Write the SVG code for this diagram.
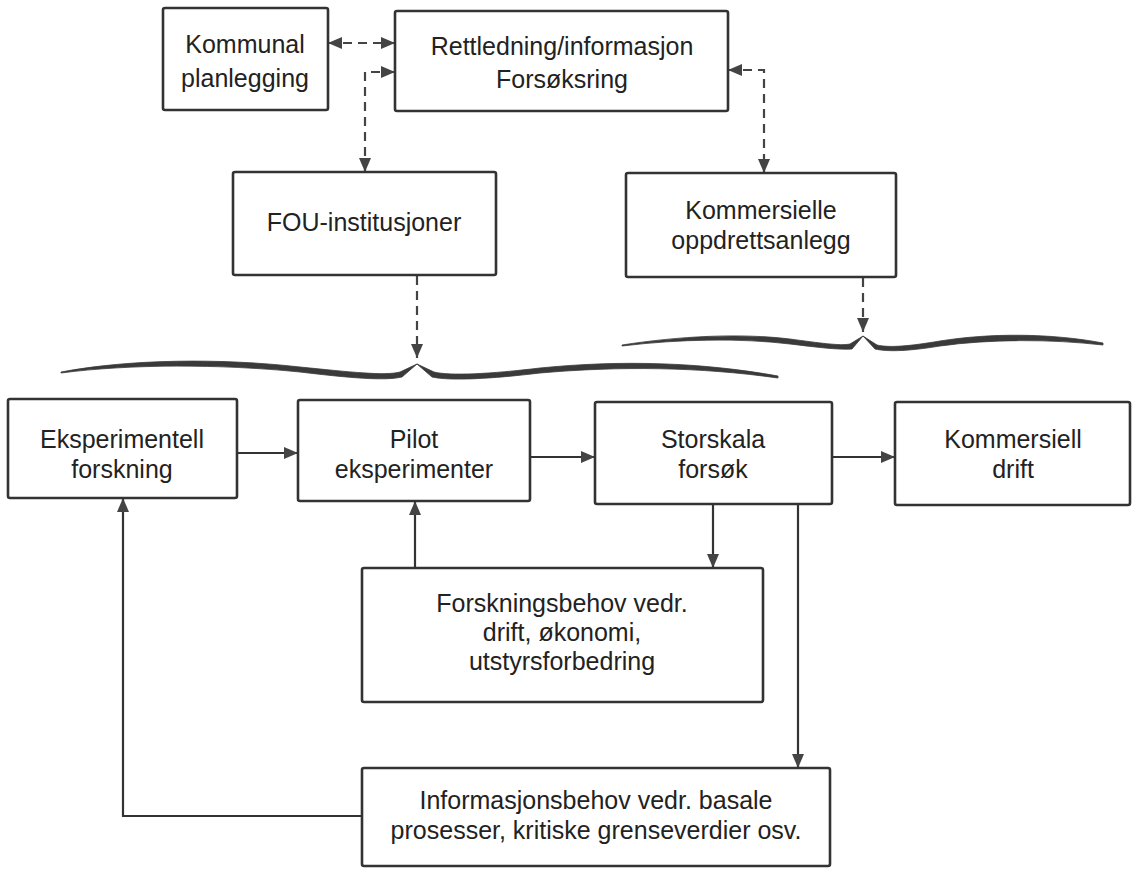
<svg xmlns="http://www.w3.org/2000/svg" width="1133" height="869" viewBox="0 0 1133 869">
<style>
.box{fill:#fff;stroke:#333;stroke-width:2.6}
.t{font-family:"Liberation Sans",Arial,Helvetica,sans-serif;font-size:25px;fill:#222;text-anchor:middle}
.c{fill:none;stroke:#333;stroke-width:2.2}
.d{fill:none;stroke:#444;stroke-width:2.2;stroke-dasharray:9 6}
.brace{fill:#3a3a3a;stroke:#3a3a3a;stroke-width:0.8}
</style>
<defs>
<marker id="a" viewBox="0 0 14 12" refX="14" refY="6" markerWidth="14" markerHeight="12" markerUnits="userSpaceOnUse" orient="auto-start-reverse">
<path d="M0,0 L14,6 L0,12 z" fill="#444"/>
</marker>
</defs>
<rect width="1133" height="869" fill="#fff"/>
<g id="connectors">
<path class="d" d="M328,43 H395" marker-start="url(#a)" marker-end="url(#a)"/>
<path class="d" d="M395,72 H365 V172" marker-start="url(#a)" marker-end="url(#a)"/>
<path class="d" d="M728,70 H764 V173" marker-start="url(#a)" marker-end="url(#a)"/>
<path class="d" d="M417,276 V358" marker-end="url(#a)"/>
<path class="d" d="M863,278 V332" marker-end="url(#a)"/>
<path class="c" d="M237,453 H298" marker-end="url(#a)"/>
<path class="c" d="M530,457 H595" marker-end="url(#a)"/>
<path class="c" d="M832,457 H895" marker-end="url(#a)"/>
<path class="c" d="M713,504 V568" marker-end="url(#a)"/>
<path class="c" d="M798,504 V768" marker-end="url(#a)"/>
<path class="c" d="M415,568 V501" marker-end="url(#a)"/>
<path class="c" d="M362,816 H123 V498" marker-end="url(#a)"/>
</g>
<g id="brace-left">
<path class="brace" d="M61,372 C130,359 220,358 300,367 C350,372 385,376 400,372 L417,364 L402,377 C385,381 350,378 300,372 C220,364 130,364 61,373 Z"/>
<path class="brace" d="M417,364 L434,372 C450,376 490,374 540,368 C620,360 700,362 778,376 L778,378 C700,367 620,366 540,373 C490,379 450,381 432,377 Z"/>
</g>
<g id="brace-right">
<path class="brace" d="M622,345 C680,336 740,333 790,339 C820,343 840,346 850,344 L863,336 L852,349 C838,350 815,347 790,344 C740,338 680,339 622,346 Z"/>
<path class="brace" d="M863,336 L877,345 C890,348 910,346 940,341 C990,333 1050,333 1103,343 L1103,345 C1050,339 990,339 940,346 C910,351 888,352 875,349 Z"/>
</g>
<g id="kommunal">
<rect class="box" x="163" y="8" width="165" height="102" rx="2"/>
<text class="t" x="245" y="53">Kommunal</text>
<text class="t" x="245" y="87">planlegging</text>
</g>
<g id="rettledning">
<rect class="box" x="395" y="11" width="333" height="100" rx="2"/>
<text class="t" x="562" y="55">Rettledning/informasjon</text>
<text class="t" x="562" y="88">Forsøksring</text>
</g>
<g id="fou">
<rect class="box" x="233" y="172" width="263" height="103" rx="2"/>
<text class="t" x="364" y="231">FOU-institusjoner</text>
</g>
<g id="kommersielle">
<rect class="box" x="626" y="173" width="270" height="104" rx="2"/>
<text class="t" x="761" y="219">Kommersielle</text>
<text class="t" x="761" y="249">oppdrettsanlegg</text>
</g>
<g id="eksperimentell">
<rect class="box" x="8" y="399" width="229" height="99" rx="2"/>
<text class="t" x="122" y="448">Eksperimentell</text>
<text class="t" x="122" y="478">forskning</text>
</g>
<g id="pilot">
<rect class="box" x="298" y="400" width="232" height="101" rx="2"/>
<text class="t" x="414" y="448">Pilot</text>
<text class="t" x="414" y="478">eksperimenter</text>
</g>
<g id="storskala">
<rect class="box" x="595" y="402" width="237" height="102" rx="2"/>
<text class="t" x="713" y="448">Storskala</text>
<text class="t" x="713" y="478">forsøk</text>
</g>
<g id="kommersiell">
<rect class="box" x="895" y="402" width="235" height="103" rx="2"/>
<text class="t" x="1013" y="448">Kommersiell</text>
<text class="t" x="1013" y="478">drift</text>
</g>
<g id="forskningsbehov">
<rect class="box" x="362" y="568" width="401" height="134" rx="2"/>
<text class="t" x="562" y="612">Forskningsbehov vedr.</text>
<text class="t" x="562" y="641">drift, økonomi,</text>
<text class="t" x="562" y="670">utstyrsforbedring</text>
</g>
<g id="informasjonsbehov">
<rect class="box" x="362" y="768" width="468" height="98" rx="2"/>
<text class="t" x="596" y="809">Informasjonsbehov vedr. basale</text>
<text class="t" x="596" y="839">prosesser, kritiske grenseverdier osv.</text>
</g>
</svg>
